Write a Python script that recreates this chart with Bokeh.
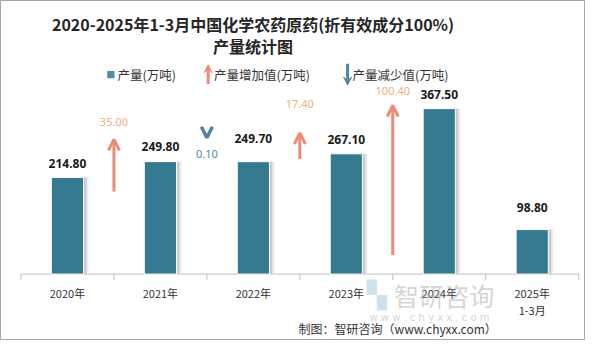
from bokeh.plotting import figure
from bokeh.models import (Range1d, ColumnDataSource, LabelSet, Label, Arrow,
                          OpenHead, VeeHead)
from bokeh.core.properties import value
from bokeh.embed import file_html
from bokeh.resources import INLINE

# ---------------- data ----------------
years = ["2020年", "2021年", "2022年", "2023年", "2024年", "2025年\n1-3月"]
output = [214.80, 249.80, 249.70, 267.10, 367.50, 98.80]       # 产量(万吨)
inc_values = [35.00, 17.40, 100.40]                           # 产量增加值(万吨)
inc_years = ["2021年", "2023年", "2024年"]
dec_values = [0.10]                                           # 产量减少值(万吨)
dec_years = ["2022年"]

# ---------------- layout ----------------
W, H = 585, 340
SX, SY = 0.975, 0.96            # reference-pixel -> figure-pixel scale
X0 = 21 * SX                    # left category boundary (px)
XU = (593 - 21) * SX / 6        # px per category
Y0 = 285 * SY                   # baseline (px from top)
KY = 0.469 * SY                 # px per 万吨 (bars)
K2 = 1.55 * SY                  # px per 万吨 (change arrows)


def X(xr):
    return (SX * xr - X0) / XU


def Y(yr):
    return (Y0 - SY * yr) / KY


BAR = "#367A92"
UP = "#EE8B75"
UPTXT = "#F4AE7C"
DN = "#4A87A0"
DNTXT = "#4E8CB0"
CJK = "Noto Sans CJK SC"

p = figure(width=W, height=H,
           x_range=Range1d(-X0 / XU, (W - X0) / XU),
           y_range=Range1d(-(H - Y0) / KY, Y0 / KY),
           output_backend="svg", toolbar_location=None,
           x_axis_location=None, y_axis_location=None,
           min_border_left=0, min_border_right=0, min_border_top=0, min_border_bottom=0)
p.extra_y_ranges = {"chg": Range1d(-(H - Y0) / K2, Y0 / K2)}
p.grid.visible = False
p.outline_line_color = "#a6a6a6"
p.outline_line_width = 1
p.background_fill_color = "white"
p.border_fill_color = "white"

n = len(years)
xc = [i + 0.5 for i in range(n)]
bounds = list(range(n + 1))

# ---------------- category axis ----------------
tick_len = 6 / KY
p.segment(x0=[bounds[0]], y0=[0], x1=[bounds[-1]], y1=[0], line_color="#bfbfbf", line_width=1)
p.segment(x0=bounds, y0=[0] * len(bounds), x1=bounds, y1=[-tick_len] * len(bounds),
          line_color="#bfbfbf", line_width=1)
p.text(x=xc, y=[Y(296)] * n, text=years, text_align="center", text_baseline="top",
       text_font=value(CJK), text_font_size="11px", text_color="#333333",
       text_line_height=1.1)

# ---------------- bars with soft shadow ----------------
bw = 33 / 95.33
src = ColumnDataSource(dict(x=xc, y=output, lbl=[f"{v:.2f}" for v in output],
                            xs1=[x + 5 / XU for x in xc], xs2=[x + 3 / XU for x in xc],
                            off=[14, 15, 23, 14, 14, 22]))
p.vbar(x="xs1", top="y", width=bw, bottom=0, source=src, fill_color="#ededed", line_color=None)
p.vbar(x="xs2", top="y", width=bw, bottom=0, source=src, fill_color="#cbcbcb", line_color=None)
p.vbar(x="x", top="y", width=bw, bottom=0, source=src, fill_color=BAR,
       line_color="white", line_width=1)

p.add_layout(LabelSet(x="x", y="y", text="lbl", source=src, y_offset="off",
                      text_align="center", text_baseline="middle",
                      text_font=value("Noto Sans"), text_font_style="bold",
                      text_font_size="12px", text_color="#1a1a1a"))

# ---------------- increase arrows ----------------
bx = {y: i for i, y in enumerate(years)}
inc_base = [55.5, 77.4, 12.9]           # arrow start levels (layout)
inc_lbl_lvl = [101.9, 114.2, 123.2]     # label levels (layout)
isrc = ColumnDataSource(dict(x=[bx[y] for y in inc_years], y0=inc_base,
                             y1=[b + v for b, v in zip(inc_base, inc_values)],
                             ly=inc_lbl_lvl, lbl=[f"{v:.2f}" for v in inc_values]))
p.add_layout(Arrow(end=OpenHead(line_color=UP, line_width=3, size=11),
                   x_start="x", y_start="y0", x_end="x", y_end="y1", source=isrc,
                   line_color=UP, line_width=3, y_range_name="chg"))
p.add_layout(LabelSet(x="x", y="ly", text="lbl", source=isrc, y_range_name="chg",
                      text_align="center", text_baseline="middle",
                      text_font=value("Noto Sans"), text_font_size="11px",
                      text_color=UPTXT))

# ---------------- decrease arrow ----------------
dec_tip = [91.6]
dec_lbl_lvl = [80.6]
dsrc = ColumnDataSource(dict(x=[bx[y] for y in dec_years],
                             y0=[t + v for t, v in zip(dec_tip, dec_values)],
                             y1=dec_tip, ly=dec_lbl_lvl,
                             lbl=[f"{v:.2f}" for v in dec_values]))
p.add_layout(Arrow(end=OpenHead(line_color=DN, line_width=3.5, size=11),
                   x_start="x", y_start="y0", x_end="x", y_end="y1", source=dsrc,
                   line_color=DN, line_width=3, y_range_name="chg"))
p.add_layout(LabelSet(x="x", y="ly", text="lbl", source=dsrc, y_range_name="chg",
                      text_align="center", text_baseline="middle",
                      text_font=value("Noto Sans"), text_font_size="11px",
                      text_color=DNTXT))

# ---------------- title ----------------
for txt, yr in [("2020-2025年1-3月中国化学农药原药(折有效成分100%)", 24), ("产量统计图", 47)]:
    p.add_layout(Label(x=X(259), y=Y(yr), text=txt, text_align="center",
                       text_baseline="middle", text_font=CJK, text_font_style="bold",
                       text_font_size="16px", text_color="#262626"))

# ---------------- legend ----------------
p.add_layout(Label(x=X(113), y=Y(77), text="■", text_align="center",
                   text_baseline="middle", text_font=CJK, text_font_size="9px",
                   text_color="#4A8FA8"))
p.add_layout(Label(x=X(120), y=Y(77), text="产量(万吨)", text_align="left",
                   text_baseline="middle", text_font=CJK, text_font_size="12.5px",
                   text_color="#333333"))
p.add_layout(Arrow(end=VeeHead(fill_color=UP, line_color=UP, size=8),
                   x_start=X(213), y_start=Y(87), x_end=X(213), y_end=Y(67),
                   line_color=UP, line_width=3))
p.add_layout(Label(x=X(219), y=Y(77), text="产量增加值(万吨)", text_align="left",
                   text_baseline="middle", text_font=CJK, text_font_size="12.5px",
                   text_color="#333333"))
p.add_layout(Arrow(end=VeeHead(fill_color=DN, line_color=DN, size=8),
                   x_start=X(356), y_start=Y(66), x_end=X(356), y_end=Y(88),
                   line_color=DN, line_width=3))
p.add_layout(Label(x=X(361), y=Y(77), text="产量减少值(万吨)", text_align="left",
                   text_baseline="middle", text_font=CJK, text_font_size="12.5px",
                   text_color="#333333"))

# ---------------- watermark ----------------
p.add_layout(Label(x=X(386), y=Y(307), text="▚", text_align="center",
                   text_baseline="middle", text_font="DejaVu Sans", text_font_size="26px",
                   text_color="#9cc3df", text_alpha=0.5))
p.add_layout(Label(x=X(455), y=Y(307), text="智研咨询", text_align="center",
                   text_baseline="middle", text_font=CJK, text_font_size="25px",
                   text_color="#b0b0b0", text_alpha=0.55))
p.add_layout(Label(x=X(440), y=Y(330), text="w w w . c h y x x . c o m", text_align="center",
                   text_baseline="middle", text_font="DejaVu Sans", text_font_size="10px",
                   text_color="#b0b0b0", text_alpha=0.55))

# ---------------- footer ----------------
p.add_layout(Label(x=X(509), y=Y(342), text="制图：智研咨询（www.chyxx.com）",
                   text_align="right", text_baseline="middle", text_font=CJK,
                   text_font_size="12px", text_color="#333333"))

open("out.html", "w").write(file_html(p, INLINE))
